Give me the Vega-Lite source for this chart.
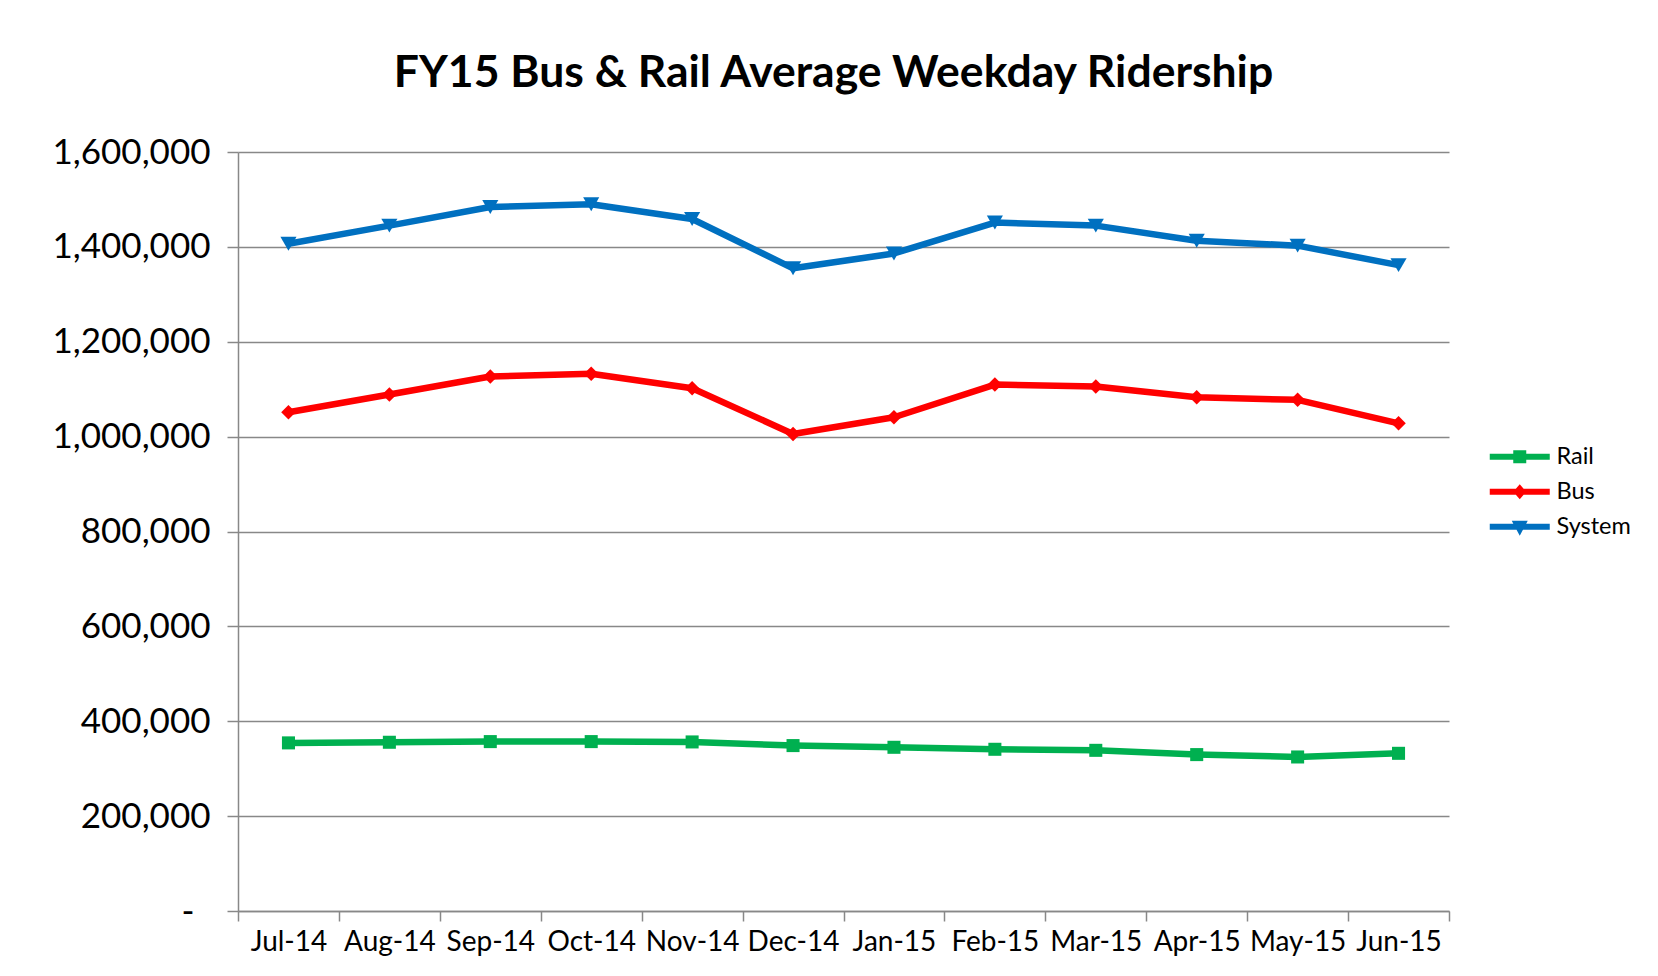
{
  "$schema": "https://vega.github.io/schema/vega-lite/v6.json",
  "width": 1211,
  "height": 759,
  "autosize": {"type": "none"},
  "padding": {"left": 238, "top": 152, "right": 209, "bottom": 65},
  "background": "white",
  "config": {"font": "Lato", "view": {"stroke": null}},
  "title": {
    "text": "FY15 Bus & Rail Average Weekday Ridership",
    "font": "Lato",
    "fontSize": 44.5,
    "fontWeight": "bold",
    "color": "black",
    "anchor": "middle",
    "frame": "group",
    "baseline": "alphabetic",
    "offset": 4,
    "dx": -10
  },
  "data": {
    "values": [
      {"month": "Jul-14", "series": "Rail", "value": 354400},
      {"month": "Aug-14", "series": "Rail", "value": 355700},
      {"month": "Sep-14", "series": "Rail", "value": 357100},
      {"month": "Oct-14", "series": "Rail", "value": 357100},
      {"month": "Nov-14", "series": "Rail", "value": 356400},
      {"month": "Dec-14", "series": "Rail", "value": 348700},
      {"month": "Jan-15", "series": "Rail", "value": 345100},
      {"month": "Feb-15", "series": "Rail", "value": 340900},
      {"month": "Mar-15", "series": "Rail", "value": 338700},
      {"month": "Apr-15", "series": "Rail", "value": 329700},
      {"month": "May-15", "series": "Rail", "value": 324700},
      {"month": "Jun-15", "series": "Rail", "value": 332400},
      {"month": "Jul-14", "series": "Bus", "value": 1051300},
      {"month": "Aug-14", "series": "Bus", "value": 1088700},
      {"month": "Sep-14", "series": "Bus", "value": 1126700},
      {"month": "Oct-14", "series": "Bus", "value": 1132400},
      {"month": "Nov-14", "series": "Bus", "value": 1102000},
      {"month": "Dec-14", "series": "Bus", "value": 1005700},
      {"month": "Jan-15", "series": "Bus", "value": 1040800},
      {"month": "Feb-15", "series": "Bus", "value": 1109800},
      {"month": "Mar-15", "series": "Bus", "value": 1105600},
      {"month": "Apr-15", "series": "Bus", "value": 1083000},
      {"month": "May-15", "series": "Bus", "value": 1077500},
      {"month": "Jun-15", "series": "Bus", "value": 1028100},
      {"month": "Jul-14", "series": "System", "value": 1406500},
      {"month": "Aug-14", "series": "System", "value": 1444800},
      {"month": "Sep-14", "series": "System", "value": 1484200},
      {"month": "Oct-14", "series": "System", "value": 1489800},
      {"month": "Nov-14", "series": "System", "value": 1458800},
      {"month": "Dec-14", "series": "System", "value": 1354800},
      {"month": "Jan-15", "series": "System", "value": 1386200},
      {"month": "Feb-15", "series": "System", "value": 1451200},
      {"month": "Mar-15", "series": "System", "value": 1444800},
      {"month": "Apr-15", "series": "System", "value": 1413000},
      {"month": "May-15", "series": "System", "value": 1402600},
      {"month": "Jun-15", "series": "System", "value": 1361500}
    ]
  },
  "encoding": {
    "x": {
      "field": "month",
      "type": "ordinal",
      "sort": null,
      "scale": {"type": "band", "paddingInner": 0, "paddingOuter": 0},
      "axis": {
        "title": null,
        "labelAngle": 0,
        "labelFont": "Lato",
        "labelFontSize": 28,
        "labelColor": "black",
        "labelPadding": 7,
        "tickBand": "extent",
        "tickSize": 10,
        "tickColor": "#888888",
        "tickWidth": 1.5,
        "domainColor": "#888888",
        "domainWidth": 1.5,
        "grid": false
      }
    },
    "y": {
      "field": "value",
      "type": "quantitative",
      "scale": {"domain": [0, 1600000], "nice": false},
      "axis": {
        "title": null,
        "values": [0, 200000, 400000, 600000, 800000, 1000000, 1200000, 1400000, 1600000],
        "labelExpr": "datum.value === 0 ? '-' : format(datum.value, ',')",
        "labelFont": "Lato",
        "labelFontSize": 35,
        "labelColor": "black",
        "labelPadding": {"condition": {"test": "datum.value === 0", "value": 33}, "value": 17},
        "tickSize": 11,
        "tickColor": "#888888",
        "tickWidth": 1.5,
        "domainColor": "#888888",
        "domainWidth": 1.5,
        "grid": true,
        "gridColor": "#888888",
        "gridWidth": 1.5
      }
    },
    "color": {
      "field": "series",
      "type": "nominal",
      "scale": {"domain": ["Rail", "Bus", "System"], "range": ["#00B050", "#FF0000", "#0070C0"]},
      "legend": {
        "orient": "none",
        "legendX": 1250,
        "legendY": 293,
        "title": null,
        "padding": 0,
        "symbolSize": 400,
        "labelFont": "Lato",
        "labelFontSize": 23.5,
        "labelColor": "black",
        "labelOffset": 45,
        "rowPadding": 10,
        "encode": {
          "symbols": {
            "update": {
              "shape": {"signal": "datum.value === 'Rail' ? 'M-1,-0.3H5V0.3H-1Z M1.35,-0.65H2.65V0.65H1.35Z' : datum.value === 'Bus' ? 'M-1,-0.3H5V0.3H-1Z M2,-0.75L2.65,0L2,0.75L1.35,0Z' : 'M-1,-0.3H5V0.3H-1Z M1.2,-0.6H2.8L2,0.9Z'"},
              "fill": {"signal": "scale('color', datum.value)"},
              "strokeWidth": {"value": 0},
              "size": {"value": 400},
              "opacity": {"value": 1},
              "fillOpacity": {"value": 1}
            }
          }
        }
      }
    }
  },
  "layer": [
    {"mark": {"type": "line", "strokeWidth": 6.5, "strokeJoin": "round"}},
    {
      "transform": [{"filter": "datum.series === 'Rail'"}],
      "mark": {"type": "point", "filled": true, "opacity": 1, "shape": "square", "size": 170}
    },
    {
      "transform": [{"filter": "datum.series === 'Bus'"}],
      "mark": {"type": "point", "filled": true, "opacity": 1, "shape": "diamond", "size": 210}
    },
    {
      "transform": [{"filter": "datum.series === 'System'"}],
      "mark": {"type": "point", "filled": true, "opacity": 1, "shape": "triangle-down", "size": 260}
    }
  ]
}
